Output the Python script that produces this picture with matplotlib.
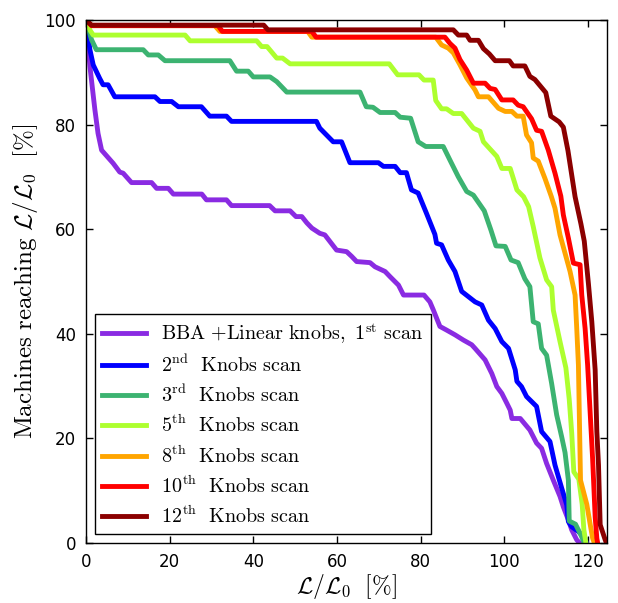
import matplotlib
matplotlib.use("Agg")
import matplotlib.pyplot as plt

plt.rcParams['mathtext.fontset'] = 'cm'

scan1_pts = [(0, 100), (0.96, 91.1), (2.15, 82.8), (2.9, 78.3), (3.75, 75.1), (6.5, 72.6), (8.1, 70.9),
             (8.9, 70.7), (10.9, 68.9), (15.7, 68.9), (16.9, 67.8), (19.7, 67.8), (20.9, 66.7), (27.7, 66.7),
             (28.8, 65.6), (33.6, 65.6), (34.8, 64.5), (43.9, 64.5), (45.2, 63.5), (48.8, 63.5), (50.2, 62.4),
             (51.6, 62.4), (52.8, 61.2), (54.0, 60.2), (55.9, 59.2), (57.1, 58.9), (59.9, 56.0), (62.3, 55.7),
             (63.5, 54.8), (64.7, 53.8), (67.9, 53.6), (69.1, 52.8), (71.5, 51.9), (72.7, 50.9), (74.7, 49.3),
             (75.9, 47.4), (80.8, 47.4), (82.2, 46.1), (83.0, 44.6), (84.6, 41.4), (86.2, 40.7), (88.2, 39.8),
             (90.2, 38.8), (92.2, 37.9), (93.0, 37.2), (95.4, 35.0), (97.0, 32.4), (98.2, 29.9), (99.4, 28.6),
             (100.6, 26.7), (101.4, 25.4), (101.8, 23.8), (103.8, 23.8), (106.1, 21.6), (107.7, 19.1),
             (108.9, 18.1), (110.1, 15.2), (111.7, 12.0), (113.3, 8.9), (114.1, 6.9), (115.3, 4.4),
             (116.1, 2.5), (117.3, 0.6), (118.0, 0)]

scan2_pts = [(0, 100), (0.96, 94.3), (1.75, 91.4), (3.3, 88.8), (4.1, 87.6), (5.3, 87.6), (6.9, 85.3),
             (16.5, 85.3), (17.7, 84.4), (20.5, 84.4), (22.1, 83.4), (27.6, 83.4), (29.6, 81.6), (33.6, 81.6),
             (34.8, 80.6), (55.1, 80.6), (55.9, 79.3), (59.1, 76.7), (61.1, 76.7), (63.1, 72.7), (69.9, 72.7),
             (71.1, 72.0), (73.9, 72.0), (75.1, 70.8), (76.6, 70.8), (77.8, 67.5), (79.4, 66.9), (81.4, 63.0),
             (83.4, 59.0), (83.8, 57.3), (85.0, 57.0), (86.6, 54.1), (88.2, 51.9), (89.8, 48.1), (91.4, 47.1),
             (93.0, 46.1), (94.6, 45.5), (96.2, 42.6), (97.8, 41.0), (99.4, 38.5), (101.0, 37.2), (102.6, 33.1),
             (103.0, 30.9), (104.1, 29.9), (105.3, 28.0), (107.7, 26.1), (108.9, 21.3), (110.9, 19.4),
             (112.1, 14.9), (113.7, 10.5), (114.9, 7.3), (115.3, 4.1), (116.1, 3.1), (117.7, 2.2),
             (119.3, 0.9), (119.6, 0)]

scan3_pts = [(0, 100), (1.35, 96.2), (2.5, 94.3), (13.7, 94.3), (14.9, 93.3), (17.3, 93.3), (18.9, 92.2),
             (34.4, 92.2), (36.0, 90.2), (38.8, 90.2), (40.0, 89.1), (44.0, 89.1), (45.6, 88.2), (48.0, 86.2),
             (65.5, 86.2), (67.0, 83.4), (68.6, 83.3), (70.3, 82.3), (73.9, 82.3), (75.1, 81.4), (77.6, 81.2),
             (79.4, 76.7), (81.2, 75.8), (85.4, 75.8), (87.0, 73.2), (89.0, 70.0), (91.0, 67.2), (92.6, 66.5),
             (95.2, 63.5), (96.8, 59.8), (98.0, 56.8), (100.2, 56.7), (101.6, 54.1), (103.3, 53.6),
             (104.9, 50.5), (106.1, 49.0), (106.9, 42.3), (108.1, 41.9), (108.9, 37.2), (110.1, 35.9),
             (111.3, 30.5), (112.5, 24.5), (113.7, 20.3), (114.5, 17.3), (115.3, 12.0), (115.5, 4.2),
             (117.0, 3.6), (118.3, 1.5), (119.1, 0)]

scan5_pts = [(0, 100), (1.0, 98.0), (1.75, 97.1), (23.7, 97.1), (24.9, 96.0), (40.8, 96.0), (42.0, 94.9),
             (43.3, 94.9), (45.6, 92.7), (47.0, 92.7), (48.8, 91.6), (72.5, 91.6), (74.5, 89.5), (79.6, 89.5),
             (80.8, 88.5), (83.0, 88.5), (83.6, 84.6), (85.0, 83.0), (86.2, 83.0), (87.8, 82.1), (89.8, 82.1),
             (92.6, 79.3), (94.2, 78.7), (95.0, 76.7), (98.2, 73.9), (99.4, 71.6), (101.4, 71.6), (103.0, 67.5),
             (104.6, 66.2), (105.8, 64.3), (106.9, 60.5), (108.5, 54.5), (110.1, 50.3), (111.3, 49.0),
             (111.7, 44.5), (113.3, 38.5), (114.7, 33.5), (115.5, 27.5), (116.1, 21.0), (116.6, 13.6),
             (117.8, 12.2), (118.6, 7.4), (119.0, 2.5), (119.5, 0)]

scan8_pts = [(0, 100), (1.35, 98.9), (30.8, 98.9), (32.0, 97.8), (53.0, 97.8), (54.0, 96.7), (83.6, 96.7),
             (85.0, 95.2), (86.6, 94.6), (87.8, 93.7), (89.4, 91.4), (91.0, 88.9), (93.0, 86.6), (93.8, 85.3),
             (96.2, 85.3), (98.6, 83.1), (100.2, 82.5), (101.8, 82.5), (103.0, 81.6), (104.5, 81.6),
             (105.3, 78.0), (106.5, 76.5), (106.9, 73.6), (108.1, 73.0), (109.7, 69.7), (111.2, 66.3),
             (112.1, 64.0), (113.3, 58.9), (114.5, 55.4), (115.7, 51.9), (116.9, 47.4), (117.3, 41.0),
             (117.7, 34.0), (118.2, 12.0), (119.7, 7.4), (120.5, 3.6), (121.1, 0.9), (121.5, 0)]

scan10_pts = [(0, 100), (1.35, 98.9), (31.6, 98.9), (32.6, 97.8), (54.0, 97.8), (55.0, 96.7), (85.8, 96.7),
              (87.0, 95.5), (88.2, 94.6), (89.4, 92.4), (91.0, 90.4), (92.6, 87.9), (95.4, 87.9), (96.6, 86.9),
              (97.8, 86.7), (99.4, 84.7), (102.1, 84.7), (103.3, 83.7), (104.5, 83.4), (106.5, 81.1),
              (107.7, 78.9), (108.9, 78.7), (110.5, 75.1), (112.1, 70.7), (113.5, 66.3), (114.1, 62.7),
              (115.3, 58.3), (116.5, 53.5), (118.1, 53.2), (118.5, 47.4), (119.3, 41.0), (119.9, 34.0),
              (121.1, 16.0), (121.7, 5.0), (122.1, 0.9), (122.3, 0)]

scan12_pts = [(0, 100), (1.35, 99.0), (42.5, 99.0), (43.5, 98.1), (87.8, 98.1), (89.0, 97.1), (91.0, 97.1),
              (91.8, 96.1), (93.8, 96.1), (95.0, 94.5), (96.4, 93.5), (97.8, 92.2), (101.2, 92.2),
              (102.1, 91.2), (104.9, 91.2), (106.1, 89.2), (107.3, 88.6), (109.9, 86.1), (111.1, 81.6),
              (113.1, 80.5), (114.1, 79.5), (115.2, 75.0), (116.9, 66.2), (118.3, 61.0), (119.1, 57.7),
              (120.1, 49.5), (120.9, 42.3), (121.7, 33.1), (122.1, 21.3), (122.5, 14.9), (122.9, 3.5),
              (124.1, 0.6), (124.4, 0)]

labels = [r'$\mathrm{BBA\ {+}Linear\ knobs,\ 1^{st}\ scan}$',
          r'$\mathrm{2^{nd}\ \ Knobs\ scan}$',
          r'$\mathrm{3^{rd}\ \ Knobs\ scan}$',
          r'$\mathrm{5^{th}\ \ Knobs\ scan}$',
          r'$\mathrm{8^{th}\ \ Knobs\ scan}$',
          r'$\mathrm{10^{th}\ \ Knobs\ scan}$',
          r'$\mathrm{12^{th}\ \ Knobs\ scan}$']
colors = ['#8a2be2', '#0000ff', '#3cb371', '#adff2f', '#ffa500', '#ff0000', '#8b0000']
series = [scan1_pts, scan2_pts, scan3_pts, scan5_pts, scan8_pts, scan10_pts, scan12_pts]

xticks = [0, 20, 40, 60, 80, 100, 120]
yticks = [0, 20, 40, 60, 80, 100]

fig = plt.figure(figsize=(6.18, 6.03), dpi=100)
ax = fig.add_axes([0.139, 0.0995, 0.843, 0.8675])

for pts, c, lab in zip(series, colors, labels):
    xs, ys = zip(*pts)
    ax.plot(xs, ys, color=c, lw=3.5, label=lab)

ax.set_xlim(0, 124.5)
ax.set_ylim(0, 100)
ax.set_xticks(xticks)
ax.set_yticks(yticks)
ax.tick_params(direction='in', top=True, right=True, length=5, width=1, labelsize=12, pad=7)
for s in ax.spines.values():
    s.set_linewidth(1.0)

ax.set_xlabel(r'$\mathcal{L}/\mathcal{L}_0\ \ [\%]$', fontsize=17, labelpad=1)
ax.set_ylabel(r'$\mathrm{Machines\ reaching}\ \mathcal{L}/\mathcal{L}_0\ \ [\%]$', fontsize=18, labelpad=3)

leg = ax.legend(loc='lower left', fontsize=14.5, handlelength=2.2, handletextpad=0.75,
                borderaxespad=0.45, borderpad=0.35, labelspacing=0.42, fancybox=False,
                framealpha=1, edgecolor='black')
leg.get_frame().set_linewidth(1.0)

fig.savefig('out.png', dpi=100, facecolor='white')
